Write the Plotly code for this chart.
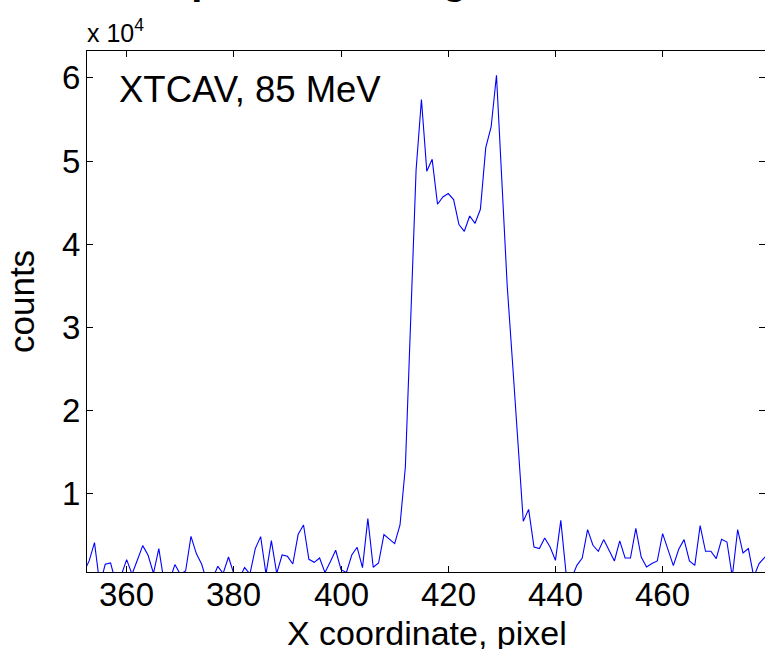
import plotly.graph_objects as go

# ---- data ----
pixel_x = list(range(352, 481))
counts = [
    500, 1900, 4100, -1000, 1490, 1650, -800, 200, 2060, 300,          # 352-361
    2000, 3740, 2570, 400, 3380, -700, -500, 1460, 300, 690,           # 362-371
    4860, 2780, 1490, -660, -300, 1250, 400, 2370, 350, -200,          # 372-381
    1100, 325, 3380, 4820, 300, 4340, 400, 2610, 2450, 1530,           # 382-391
    5100, 6220, 2090, 1730, 2250, 500, 1800, 3180, 850, 500,           # 392-401
    2610, 3540, 1090, 6990, 1130, 1650, 5060, 4500, 3980, 6220,        # 402-411
    13200, 31000, 48890, 57400, 48770, 50210, 44800, 45680, 46090, 45370,  # 412-421
    42360, 41550, 43390, 42510, 44200, 51620, 54100, 60320, 47800, 35000,  # 422-431
    25700, 16100, 6660, 8100, 3570, 3380, 4660, 3570, 1970, 6780,      # 432-441
    300, -200, 1370, 2250, 5670, 3780, 3060, 4460, 3180, 1890,         # 442-451
    4300, 2250, 2250, 5820, 2370, 1170, 1580, 1890, 5180, 3380,        # 452-461
    1330, 3300, 4460, 1890, 1370, 6150, 3060, 3060, 2180, 4500,        # 462-471
    4170, 0, 5670, 2850, 3380, 0, 1580, 2300, 3000,                    # 472-480
]
x_tick_vals = [360, 380, 400, 420, 440, 460]
x_tick_text = ["360", "380", "400", "420", "440", "460"]
y_tick_vals = [10000, 20000, 30000, 40000, 50000, 60000]
y_tick_text = ["1", "2", "3", "4", "5", "6"]
x_range = [352.6, 479.1]
y_range = [565, 63240]

title_text = "Beam spectrum along X"
x_label = "X coordinate, pixel"
y_label = "counts"
note_text = "XTCAV, 85 MeV"
exp_text = "x 10<sup>4</sup>"

W, H = 765, 649
L, R, T, B = 87, 0, 51, 77
PW, PH = W - L - R, H - T - B

def px(xp):
    return (xp - L) / PW

def py(yp):
    return (H - B - yp) / PH

FONT = "Liberation Sans, Arial, Helvetica, sans-serif"

fig = go.Figure()
fig.add_trace(go.Scatter(
    x=pixel_x, y=counts, mode="lines",
    line=dict(color="#0000ff", width=1.1),
    hoverinfo="skip", showlegend=False,
))

axis_common = dict(
    showgrid=False, zeroline=False,
    ticks="inside", ticklen=6, tickwidth=1, tickcolor="black",
    tickfont=dict(family=FONT, size=33, color="black"),
)
fig.update_xaxes(
    range=x_range, tickvals=x_tick_vals, showticklabels=False,
    showline=True, linecolor="black", linewidth=1, mirror="ticks",
    **axis_common,
)
fig.update_yaxes(
    range=y_range, tickvals=y_tick_vals, ticktext=y_tick_text,
    showline=True, linecolor="black", linewidth=1, mirror=False,
    ticklabelstandoff=-1, **axis_common,
)
# right-side ticks (the right frame edge is outside the picture)
fig.update_layout(yaxis2=dict(
    overlaying="y", side="right", anchor="x", range=y_range,
    tickvals=y_tick_vals, showticklabels=False, showgrid=False,
    zeroline=False, showline=False, ticks="inside", ticklen=6,
    tickcolor="black",
))
fig.add_trace(go.Scatter(x=[pixel_x[0]], y=[counts[0]], yaxis="y2",
                         mode="markers", marker=dict(opacity=0),
                         hoverinfo="skip", showlegend=False))

ann = []
# x tick labels, placed at their data positions
for v, t in zip(x_tick_vals, x_tick_text):
    ann.append(dict(text=t, x=v, xref="x", y=py(575), yref="paper",
                    xanchor="center", yanchor="top", showarrow=False,
                    font=dict(family=FONT, size=33, color="black")))
ann.append(dict(text="<b>" + title_text + "</b>", x=px(48), y=py(3),
                xref="paper", yref="paper",
                xanchor="left", yanchor="bottom", showarrow=False,
                font=dict(family=FONT, size=40, color="black")))
ann.append(dict(text=exp_text, x=px(86), y=py(48), xref="paper", yref="paper",
                xanchor="left", yanchor="bottom", showarrow=False,
                font=dict(family=FONT, size=25, color="black")))
ann.append(dict(text=note_text, x=px(118), y=py(89.5), xref="paper", yref="paper",
                xanchor="left", yanchor="middle", showarrow=False,
                font=dict(family=FONT, size=36.5, color="black")))
ann.append(dict(text=x_label, x=px(426.5), y=py(613), xref="paper", yref="paper",
                xanchor="center", yanchor="top", showarrow=False,
                font=dict(family=FONT, size=34, color="black")))
ann.append(dict(text=y_label, x=px(21), y=py(302), xref="paper", yref="paper",
                xanchor="center", yanchor="middle", textangle=-90, showarrow=False,
                font=dict(family=FONT, size=35, color="black")))
for a in ann:
    a["borderpad"] = 0
fig.update_layout(
    width=W, height=H, margin=dict(l=L, r=R, t=T, b=B),
    paper_bgcolor="white", plot_bgcolor="white",
    annotations=ann, showlegend=False,
)
fig.write_html("out.html")
